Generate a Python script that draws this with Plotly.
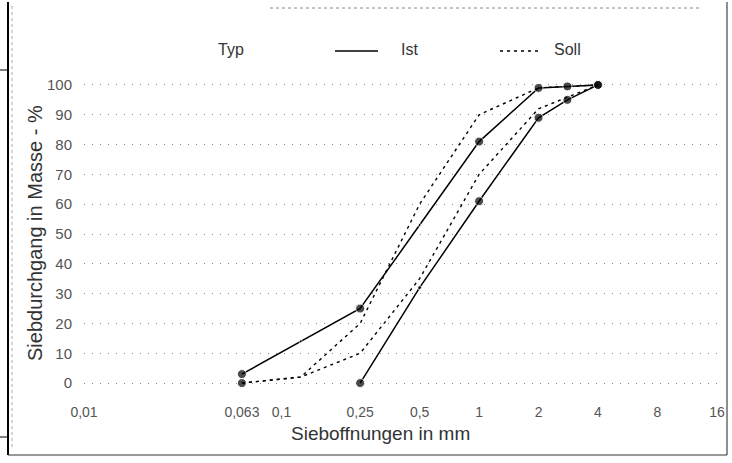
import math
import plotly.graph_objects as go

# ---------------- data ----------------
tick_values = [0.01, 0.063, 0.1, 0.25, 0.5, 1, 2, 4, 8, 16]
tick_labels = ["0,01", "0,063", "0,1", "0,25", "0,5", "1", "2", "4", "8", "16"]
y_ticks = [0, 10, 20, 30, 40, 50, 60, 70, 80, 90, 100]

ist_1_sieve = [0.063, 0.125, 0.25, 0.5, 1, 2, 2.8, 4]
ist_1_pass = [3, 14, 25, 53, 81, 99, 99.5, 100]

ist_2_sieve = [0.25, 0.5, 1, 2, 2.8, 4]
ist_2_pass = [0, 32, 61, 89, 95, 100]

soll_1_sieve = [0.063, 0.125, 0.25, 0.5, 1, 2, 4]
soll_1_pass = [0, 2, 20, 60, 90, 99, 100]

soll_2_sieve = [0.063, 0.125, 0.25, 0.5, 1, 2, 4]
soll_2_pass = [0, 2, 10, 35, 70, 92, 100]

# ---------------- layout geometry ----------------
W, H = 732, 463
L, R, T, B = 84, 718, 76, 392
FONT = "Liberation Sans, Arial, sans-serif"


def px(x):
    return (x - L) / (R - L)


def py(y):
    return (B - y) / (B - T)


fig = go.Figure()

ist_sizes_1 = [9, 3, 9, 3, 9, 9, 9, 9]
ist_sizes_2 = [9, 4, 9, 9, 9, 9]
soll_sizes = [9, 0, 0, 0, 0, 0, 0]

fig.add_trace(go.Scatter(x=soll_1_sieve, y=soll_1_pass, mode="lines+markers",
                         line=dict(color="black", width=1.4, dash="3px,4px"),
                         marker=dict(color="black", size=soll_sizes),
                         cliponaxis=False, name="Soll", showlegend=False))
fig.add_trace(go.Scatter(x=soll_2_sieve, y=soll_2_pass, mode="lines",
                         line=dict(color="black", width=1.4, dash="3px,4px"),
                         cliponaxis=False, name="Soll", showlegend=False))
fig.add_trace(go.Scatter(x=ist_1_sieve, y=ist_1_pass, mode="lines+markers",
                         line=dict(color="black", width=1.5),
                         marker=dict(color="black", size=ist_sizes_1),
                         cliponaxis=False, name="Ist", showlegend=False))
fig.add_trace(go.Scatter(x=ist_2_sieve, y=ist_2_pass, mode="lines+markers",
                         line=dict(color="black", width=1.5),
                         marker=dict(color="black", size=ist_sizes_2),
                         cliponaxis=False, name="Ist", showlegend=False))

fig.update_layout(
    template="none",
    width=W, height=H,
    margin=dict(l=L, r=W - R, t=T, b=H - B, pad=0, autoexpand=False),
    paper_bgcolor="white", plot_bgcolor="white",
    font=dict(family=FONT, color="#444"),
    xaxis=dict(type="log", range=[math.log10(0.01), math.log10(16.2)],
               tickvals=tick_values, ticktext=tick_labels, automargin=False,
               showgrid=False, zeroline=False, showline=False, ticks="",
               ticklabelstandoff=10,
               tickfont=dict(family=FONT, size=14, color="#555")),
    yaxis=dict(range=[-3, 103], tickvals=y_ticks, automargin=False,
               showgrid=True, gridcolor="#8a8a8a", griddash="1px,7px", gridwidth=1,
               zeroline=False, showline=False, ticks="",
               ticklabelstandoff=11,
               tickfont=dict(family=FONT, size=15, color="#555")),
)


def label(text, x, y, size, angle=0):
    fig.add_annotation(text=text, xref="paper", yref="paper",
                       x=px(x), y=py(y), xanchor="center", yanchor="middle",
                       textangle=angle, showarrow=False,
                       font=dict(family=FONT, size=size, color="#333"))


# axis titles
label("Siebdurchgang in Masse - %", 35, 233, 20, -90)
label("Sieboffnungen in mm", 380, 433, 19)

# legend
label("Typ", 231, 49, 16)
label("Ist", 409, 49, 16)
label("Soll", 567, 49, 16)
fig.add_shape(type="line", xref="paper", yref="paper",
              x0=px(335), x1=px(378), y0=py(51), y1=py(51),
              line=dict(color="black", width=1.3))
fig.add_shape(type="line", xref="paper", yref="paper",
              x0=px(500), x1=px(542), y0=py(51), y1=py(51),
              line=dict(color="black", width=1.3, dash="3px,4px"))

# outer frame of the scanned sheet
frame = [
    (8, 2, 8, 455, "black", 2, "solid"),
    (8, 455, 727, 455, "#333", 1.2, "solid"),
    (727, 2, 727, 455, "#444", 1.2, "solid"),
    (270, 8, 700, 8, "#888", 1, "dot"),
    (0, 70, 8, 70, "black", 1, "solid"),
    (0, 437, 8, 437, "black", 1, "solid"),
    (12, 6, 12, 450, "#aaa", 1, "dot"),
]
for x0, y0, x1, y1, c, w, d in frame:
    fig.add_shape(type="line", xref="paper", yref="paper",
                  x0=px(x0), y0=py(y0), x1=px(x1), y1=py(y1),
                  line=dict(color=c, width=w, dash=d))

fig.write_html("out.html", config={"displayModeBar": False},
               post_script="document.body.style.margin='0px';")
